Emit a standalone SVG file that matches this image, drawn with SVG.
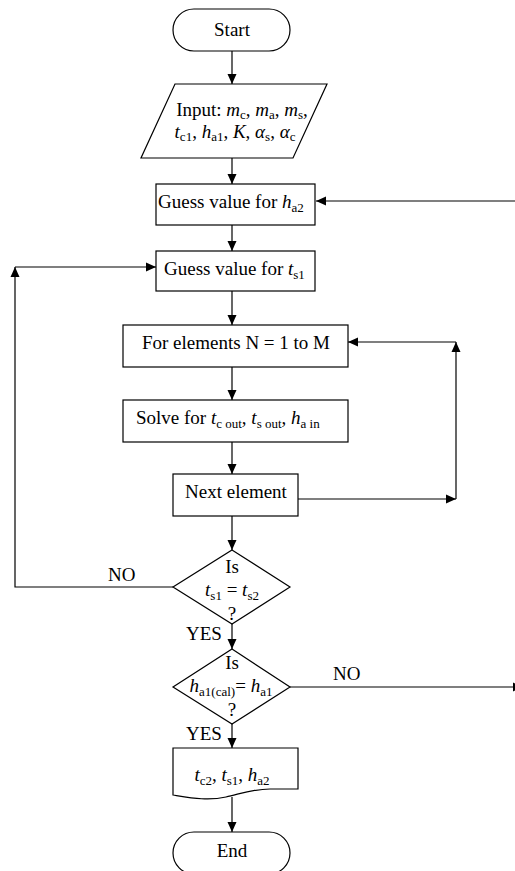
<svg xmlns="http://www.w3.org/2000/svg" width="515" height="871" viewBox="0 0 515 871" font-family="'Liberation Serif', 'Times New Roman', Times, 'DejaVu Serif', serif">
<defs>
<style>
.s{fill:#fff;stroke:#000;stroke-width:1.2}
.c{fill:none;stroke:#000;stroke-width:1.2}
text{font-family:'Liberation Serif','Times New Roman',Times,'DejaVu Serif',serif;font-size:19px;fill:#000}
.m{text-anchor:middle}
.i{font-style:italic}
.b{font-size:13px;font-style:normal}
</style>
<marker id="a" viewBox="0 0 10 10" refX="10" refY="5" markerWidth="10" markerHeight="10" markerUnits="userSpaceOnUse" orient="auto">
<path d="M0,0.5 L10,5 L0,9.5 Z" fill="#000"/>
</marker>
</defs>
<g id="connectors">
<path class="c" d="M232,51 V84" marker-end="url(#a)"/>
<path class="c" d="M232,158 V184" marker-end="url(#a)"/>
<path class="c" d="M515,201 H316" marker-end="url(#a)"/>
<path class="c" d="M232,225 V251" marker-end="url(#a)"/>
<path class="c" d="M173,587 H15 V267" marker-end="url(#a)"/>
<path class="c" d="M15,267 H156" marker-end="url(#a)"/>
<path class="c" d="M232,291 V325" marker-end="url(#a)"/>
<path class="c" d="M232,367 V400" marker-end="url(#a)"/>
<path class="c" d="M232,442 V474" marker-end="url(#a)"/>
<path class="c" d="M298,499 H456" marker-end="url(#a)"/>
<path class="c" d="M456,499 V342" marker-end="url(#a)"/>
<path class="c" d="M456,342 H348" marker-end="url(#a)"/>
<path class="c" d="M232,516 V550" marker-end="url(#a)"/>
<path class="c" d="M232,624 V649" marker-end="url(#a)"/>
<path class="c" d="M290,687 H523" marker-end="url(#a)"/>
<path class="c" d="M232,723 V748" marker-end="url(#a)"/>
<path class="c" d="M232,797 V832" marker-end="url(#a)"/>
<text x="108" y="581">NO</text>
<text x="186" y="640">YES</text>
<text x="333" y="680">NO</text>
<text x="186" y="740">YES</text>
</g>
<g id="start">
<rect class="s" x="173" y="9" width="117" height="42" rx="21"/>
<text class="m" x="232" y="36">Start</text>
</g>
<g id="input">
<path class="s" d="M175,84 H327 L293,158 H141 Z"/>
<text class="m" x="242" y="116">Input: <tspan class="i">m</tspan><tspan class="b" dy="3">c</tspan><tspan dy="-3">, </tspan><tspan class="i">m</tspan><tspan class="b" dy="3">a</tspan><tspan dy="-3">, </tspan><tspan class="i">m</tspan><tspan class="b" dy="3">s</tspan><tspan dy="-3">,</tspan></text>
<text class="m" x="235" y="138"><tspan class="i">t</tspan><tspan class="b" dy="3">c1</tspan><tspan dy="-3">, </tspan><tspan class="i">h</tspan><tspan class="b" dy="3">a1</tspan><tspan dy="-3">, </tspan><tspan class="i">K</tspan><tspan>, </tspan><tspan class="i">α</tspan><tspan class="b" dy="3">s</tspan><tspan dy="-3">, </tspan><tspan class="i">α</tspan><tspan class="b" dy="3">c</tspan></text>
</g>
<g id="guess-ha2">
<rect class="s" x="156" y="184" width="159" height="41"/>
<text x="158" y="208">Guess value for <tspan class="i">h</tspan><tspan class="b" dy="4">a2</tspan></text>
</g>
<g id="guess-ts1">
<rect class="s" x="156" y="251" width="159" height="40"/>
<text x="164" y="275">Guess value for <tspan class="i">t</tspan><tspan class="b" dy="4">s1</tspan></text>
</g>
<g id="for-elements">
<rect class="s" x="123" y="325" width="225" height="42"/>
<text class="m" x="236" y="349">For elements N = 1 to M</text>
</g>
<g id="solve">
<rect class="s" x="123" y="400" width="225" height="42"/>
<text x="136" y="424">Solve for <tspan class="i">t</tspan><tspan class="b" dy="4">c out</tspan><tspan dy="-4">, </tspan><tspan class="i">t</tspan><tspan class="b" dy="4">s out</tspan><tspan dy="-4">, </tspan><tspan class="i">h</tspan><tspan class="b" dy="4">a in</tspan></text>
</g>
<g id="next-element">
<rect class="s" x="173" y="474" width="125" height="42"/>
<text class="m" x="236" y="498">Next element</text>
</g>
<g id="decision-ts">
<path class="s" d="M232,550 L290,587 L232,624 L173,587 Z"/>
<text class="m" x="232" y="573">Is</text>
<text class="m" x="232" y="596"><tspan class="i">t</tspan><tspan class="b" dy="4">s1</tspan><tspan dy="-4"> = </tspan><tspan class="i">t</tspan><tspan class="b" dy="4">s2</tspan></text>
<text class="m" x="232" y="620">?</text>
</g>
<g id="decision-ha1">
<path class="s" d="M232,649 L290,687 L232,724 L173,687 Z"/>
<text class="m" x="232" y="669">Is</text>
<text class="m" x="231" y="692"><tspan class="i">h</tspan><tspan class="b" dy="4">a1(cal)</tspan><tspan dy="-4">= </tspan><tspan class="i">h</tspan><tspan class="b" dy="4">a1</tspan></text>
<text class="m" x="232" y="716">?</text>
</g>
<g id="output">
<path class="s" d="M173,748 H298 V789 L270,789 C252,789 240,794 226,797 C208,801 192,798 173,795 Z"/>
<text class="m" x="232" y="781"><tspan class="i">t</tspan><tspan class="b" dy="4">c2</tspan><tspan dy="-4">, </tspan><tspan class="i">t</tspan><tspan class="b" dy="4">s1</tspan><tspan dy="-4">, </tspan><tspan class="i">h</tspan><tspan class="b" dy="4">a2</tspan></text>
</g>
<g id="end">
<rect class="s" x="173" y="832" width="117" height="42" rx="21"/>
<text class="m" x="232" y="857">End</text>
</g>
</svg>
